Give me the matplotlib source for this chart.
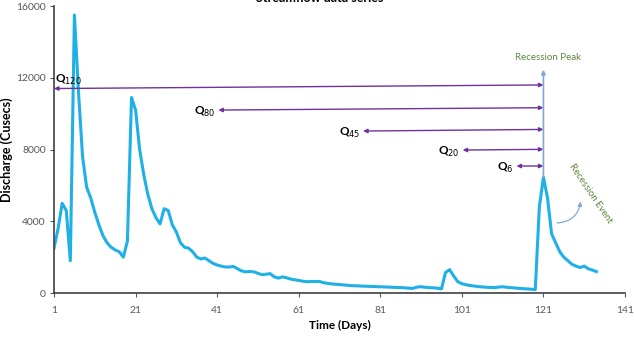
import matplotlib
matplotlib.use("Agg")
import matplotlib.pyplot as plt
from matplotlib.patches import FancyArrowPatch

plt.rcParams['font.family'] = ['Lato', 'DejaVu Sans']

# daily discharge (cusecs), day 1 .. 134
discharge = [
    2500, 3600, 5000, 4600, 1800, 15500, 11200, 7600, 5900, 5300,
    4500, 3800, 3200, 2800, 2550, 2400, 2300, 2000, 2900, 10900,
    10200, 8000, 6600, 5500, 4700, 4200, 3850, 4700, 4600, 3800,
    3400, 2800, 2550, 2500, 2300, 2000, 1900, 1950, 1800, 1650,
    1560, 1500, 1450, 1450, 1480, 1350, 1230, 1180, 1200, 1180,
    1100, 1020, 1050, 1080, 900, 830, 900, 850, 780, 740,
    700, 660, 630, 640, 640, 650, 580, 540, 510, 490,
    470, 450, 430, 410, 400, 390, 380, 370, 360, 355,
    350, 340, 330, 320, 310, 300, 290, 270, 260, 330,
    350, 320, 300, 290, 270, 230, 1150, 1300, 950, 630,
    520, 460, 420, 390, 360, 340, 320, 310, 300, 330,
    350, 320, 300, 280, 260, 240, 230, 210, 190, 4800,
    6450, 5300, 3300, 2800, 2300, 2000, 1800, 1600, 1500, 1420,
    1500, 1350, 1280, 1190,
]
days = list(range(1, len(discharge) + 1))

x_ticks = [1, 21, 41, 61, 81, 101, 121, 141]
y_ticks = [0, 4000, 8000, 12000, 16000]

# Q-duration arrows: label, start day, start value, end value (end at peak day)
q_labels = ["120", "80", "45", "20", "6"]
q_start_day = [1, 41.3, 76.8, 101.2, 114.4]
q_start_val = [11400, 10200, 9030, 7970, 7080]
q_end_val = [11600, 10330, 9120, 8010, 7080]
peak_day = 121
peak_val = 6450
peak_arrow_top = 12450

fig = plt.figure(figsize=(6.34, 3.38), dpi=100)
ax = fig.add_axes([0.0852, 0.1331, 0.9006, 0.8491])

ax.plot(days, discharge, color="#1fb0e6", linewidth=2.2, solid_joinstyle="round")

ax.set_xlim(1, 141)
ax.set_ylim(0, 16000)
ax.set_xticks(x_ticks)
ax.set_yticks(y_ticks)
ax.tick_params(labelsize=7.5, colors="#595959", direction="out", length=3)
ax.tick_params(axis="y", pad=3)
ax.tick_params(axis="x", pad=6)
for side in ["top", "right"]:
    ax.spines[side].set_visible(False)
for side in ["left", "bottom"]:
    ax.spines[side].set_color("#404040")
    ax.spines[side].set_linewidth(1.2)

ax.set_xlabel("Time (Days)", fontsize=8.5, fontweight="bold", labelpad=4)
ax.set_ylabel("Discharge (Cusecs)", fontsize=9, fontweight="bold", labelpad=2)

fig.text(320 / 634, 1 - 2.5 / 338, "Streamflow data series", ha="center",
         va="baseline", fontsize=9, fontweight="bold")

purple = "#7030a0"
for lab, x0, y0, y1 in zip(q_labels, q_start_day, q_start_val, q_end_val):
    ax.annotate("", xy=(peak_day, y1), xytext=(x0, y0),
                arrowprops=dict(arrowstyle="<|-|>", color=purple, lw=1.0,
                                mutation_scale=6, shrinkA=0, shrinkB=0))
    if lab == "120":
        ax.text(x0 + 0.3, y0 + 80, f"Q$_{{{lab}}}$", fontsize=8.5,
                fontweight="bold", ha="left", va="bottom")
    else:
        ax.text(x0 - 0.8, y0 - 100, f"Q$_{{{lab}}}$", fontsize=8.5,
                fontweight="bold", ha="right", va="center")

ax.annotate("", xy=(peak_day, peak_arrow_top), xytext=(peak_day, peak_val),
            arrowprops=dict(arrowstyle="-|>", color="#7fa7d8", lw=1.2,
                            mutation_scale=6, shrinkA=0, shrinkB=0))
ax.text(peak_day + 1.2, peak_arrow_top + 450, "Recession Peak", fontsize=7,
        color="#5a8a3a", ha="center", va="bottom")

ax.text(132.5, 5550, "Recession Event", fontsize=7, color="#5a8a3a",
        rotation=-56, ha="center", va="center", rotation_mode="anchor")
arc = FancyArrowPatch((123.7, 3900), (130.2, 5250),
                      connectionstyle="arc3,rad=0.45", arrowstyle="-|>",
                      mutation_scale=6, color="#7fa7d8", lw=0.9)
ax.add_patch(arc)

fig.savefig("out.png", dpi=100)
